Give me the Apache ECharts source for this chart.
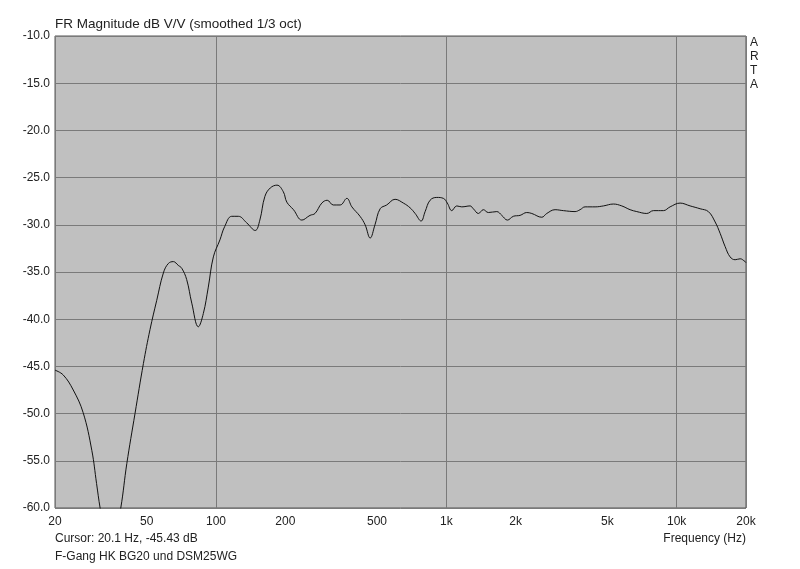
<!DOCTYPE html>
<html>
<head>
<meta charset="utf-8">
<script src="https://cdn.jsdelivr.net/npm/echarts@6/dist/echarts.min.js"></script>
<style>
  html, body { margin: 0; padding: 0; background: #fff; }
  #chart { width: 800px; height: 569px; }
</style>
</head>
<body>
<div id="chart"></div>
<script>
// frequency (Hz) and magnitude (dB)
const freqs = [20, 21.7, 24, 26.5, 28.9, 30.3, 31.4, 34.7, 38.6, 41, 44.5, 48.4, 51.7, 55.3, 59.1, 62.1, 65.3, 68.6,
  71, 74.6, 78.5, 83.8, 88.1, 92.6, 97.4, 104, 109, 117, 125, 136, 148, 155, 163, 172, 184, 196, 203, 217,
  236, 256, 269, 288, 304, 323, 346, 370, 389, 422, 444, 467, 490, 516, 551, 599, 651, 696, 732, 777, 809,
  850, 909, 971, 1010, 1056, 1110, 1167, 1268, 1310, 1378, 1448, 1522, 1656, 1741, 1841, 1954, 2090, 2234,
  2350, 2596, 2729, 2966, 3223, 3622, 3808, 4003, 4424, 4808, 5313, 5777, 6278, 6712, 7418, 7922, 8756,
  9363, 10350, 11440, 12640, 13730, 14690, 15440, 16230, 17060, 17940, 18860, 19820, 20000];
const magnitude = [-45.4, -45.9, -47.5, -49.9, -53.9, -57.4, -60, -66, -60, -55.3, -50, -44.7, -41.1, -38, -35.1, -34.1, -33.9, -34.3,
  -34.6, -35.8, -38.3, -40.8, -39.4, -36.6, -33.4, -31.6, -30.2, -29.1, -29.1, -29.8, -30.6, -29.5, -27, -26.1, -25.8, -26.5, -27.6, -28.4,
  -29.5, -29, -28.8, -27.7, -27.4, -27.9, -27.9, -27.2, -28.1, -29.1, -30, -31.4, -30, -28.3, -27.9, -27.3, -27.7, -28.2, -28.8, -29.6, -28.6,
  -27.4, -27.1, -27.2, -27.7, -28.5, -28, -28.1, -28, -28.3, -28.8, -28.4, -28.7, -28.6, -29, -29.5, -29.1, -29, -28.7,
  -28.8, -29.2, -28.8, -28.4, -28.5, -28.6, -28.4, -28.1, -28.1, -28, -27.8, -28, -28.4, -28.6, -28.8, -28.5, -28.5,
  -28.1, -27.7, -28, -28.3, -28.6, -29.7, -30.9, -32.3, -33.4, -33.7, -33.6, -33.9, -34];
const xLabels = [20, 50, 100, 200, 500, 1000, 2000, 5000, 10000, 20000];

const chart = echarts.init(document.getElementById("chart"));
const font = "Liberation Sans, Arial, sans-serif";

chart.setOption({
  backgroundColor: "#ffffff",
  animation: false,
  grid: {
    left: 55,
    top: 36,
    right: 54,
    bottom: 61,
    show: true,
    backgroundColor: "#c0c0c0",
    borderColor: "#555555",
    borderWidth: 1,
  },
  xAxis: {
    type: "log",
    logBase: 10,
    min: 20,
    max: 20000,
    axisLine: { show: false },
    axisTick: { show: false },
    splitLine: { show: true, lineStyle: { color: "#7a7a7a", width: 1 } },
    axisLabel: {
      customValues: xLabels,
      color: "#222",
      fontFamily: font,
      fontSize: 12,
      margin: 8,
      formatter: function (v) {
        return v >= 1000 ? v / 1000 + "k" : String(v);
      },
    },
  },
  yAxis: {
    type: "value",
    min: -60,
    max: -10,
    interval: 5,
    axisLine: { show: false },
    axisTick: { show: false },
    splitLine: { show: true, lineStyle: { color: "#7a7a7a", width: 1 } },
    axisLabel: {
      color: "#222",
      fontFamily: font,
      fontSize: 12,
      margin: 5,
      formatter: function (v) {
        return v.toFixed(1);
      },
    },
  },
  series: [
    {
      type: "line",
      data: freqs.map((f, i) => [f, magnitude[i]]),
      showSymbol: false,
      smooth: 0.4,
      clip: true,
      lineStyle: { color: "#111111", width: 1 },
    },
  ],
  graphic: [
    { type: "text", left: 55, top: 17, style: { text: "FR Magnitude dB V/V (smoothed 1/3 oct)", fontFamily: font, fontSize: 13.5, fill: "#222" } },
    { type: "text", left: 750, top: 36, style: { text: "A\nR\nT\nA", fontFamily: font, fontSize: 12, lineHeight: 14, fill: "#222" } },
    { type: "text", left: 55, top: 533, style: { text: "Cursor: 20.1 Hz, -45.43 dB", fontFamily: font, fontSize: 12, fill: "#222" } },
    { type: "text", left: 55, top: 551, style: { text: "F-Gang HK BG20 und DSM25WG", fontFamily: font, fontSize: 12, fill: "#222" } },
    { type: "text", right: 54, top: 533, style: { text: "Frequency (Hz)", fontFamily: font, fontSize: 12, fill: "#222" } },
  ],
});
</script>
</body>
</html>
